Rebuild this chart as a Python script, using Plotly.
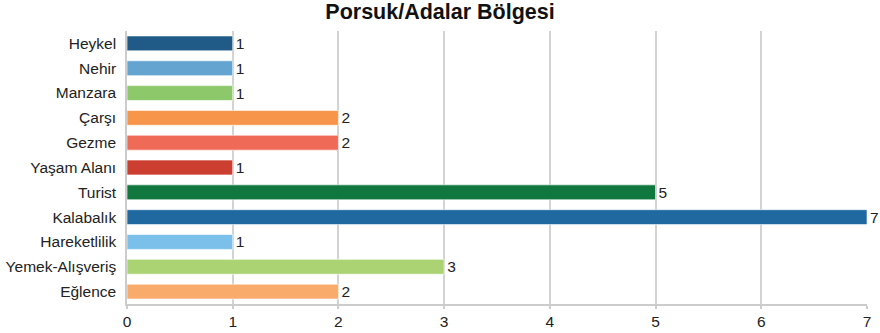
import plotly.graph_objects as go

categories = ["Heykel", "Nehir", "Manzara", "Çarşı", "Gezme", "Yaşam Alanı",
              "Turist", "Kalabalık", "Hareketlilik", "Yemek-Alışveriş", "Eğlence"]
counts = [1, 1, 1, 2, 2, 1, 5, 7, 1, 3, 2]
bar_colors = ["#205a87", "#63a4d1", "#8dc96b", "#f7964b", "#f06a58", "#cc3f30",
              "#10783f", "#1f69a0", "#7ac0ea", "#acd373", "#f9ab6c"]
x_ticks = [0, 1, 2, 3, 4, 5, 6, 7]

font_family = "Liberation Sans, Arial, Helvetica, sans-serif"
label_size = 15.5

fig = go.Figure(go.Bar(
    y=categories,
    x=counts,
    orientation="h",
    marker=dict(color=bar_colors, line=dict(color="rgba(255,255,255,0.6)", width=1)),
    width=0.6,
    text=[str(v) for v in counts],
    textposition="outside",
    constraintext="none",
    textfont=dict(size=label_size, color="#222222", family=font_family),
    cliponaxis=False,
    hoverinfo="skip",
))

fig.update_layout(
    width=880, height=333,
    margin=dict(l=127, r=13, t=31, b=29, autoexpand=False),
    paper_bgcolor="white",
    plot_bgcolor="white",
    showlegend=False,
    title=dict(text="<b>Porsuk/Adalar Bölgesi</b>", x=0.5, xanchor="center",
               y=0.988, yanchor="top",
               font=dict(size=21.5, color="#111111", family=font_family)),
    font=dict(family=font_family, size=label_size, color="#222222"),
)

fig.update_xaxes(
    range=[0, 7],
    automargin=False,
    tickvals=x_ticks,
    ticktext=[str(t) for t in x_ticks],
    showgrid=True, gridcolor="#d3d3d3", gridwidth=1.5,
    zeroline=False,
    showline=True, linecolor="#cccccc", linewidth=1.5,
    ticks="outside", ticklen=3, tickcolor="#cccccc", tickwidth=1.5,
    tickfont=dict(size=label_size, color="#222222"),
)

fig.update_yaxes(
    categoryorder="array",
    categoryarray=categories,
    autorange="reversed",
    automargin=False,
    showgrid=False,
    showline=True, linecolor="#cccccc", linewidth=1.5,
    ticks="", ticklabelstandoff=6,
    tickfont=dict(size=label_size, color="#222222"),
)

fig.write_html("out.html")
